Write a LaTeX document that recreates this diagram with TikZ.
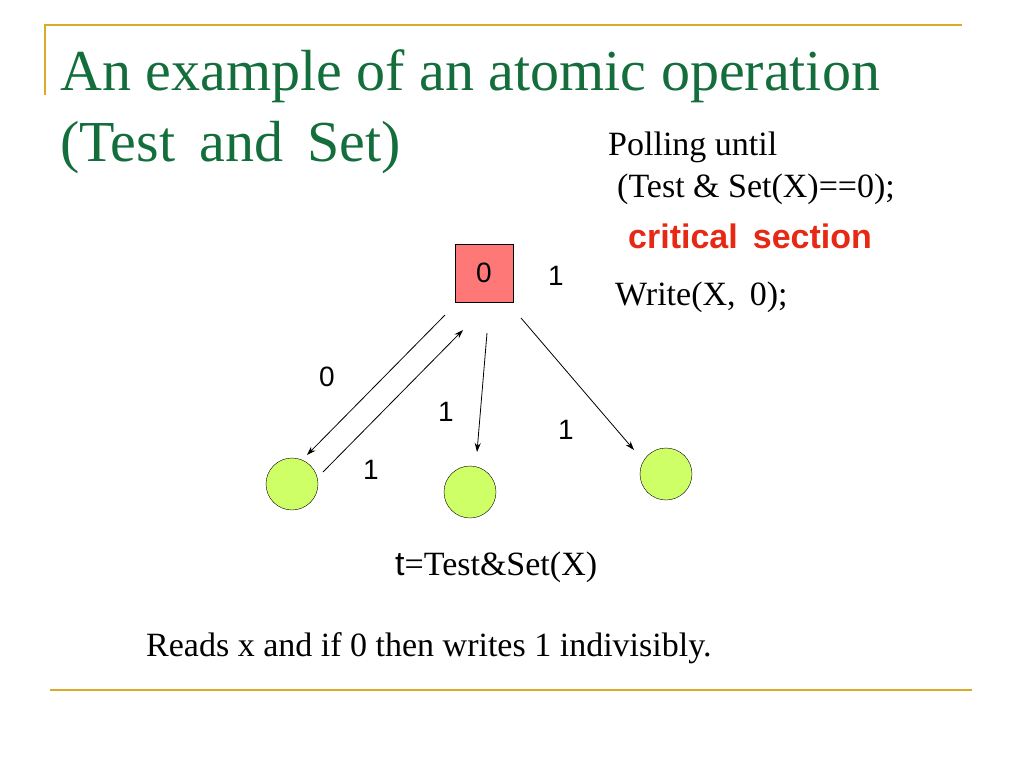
\documentclass[tikz,border=0pt]{standalone}
\usepackage{fontspec}
\usetikzlibrary{arrows.meta}
\setmainfont{Liberation Serif}
\setsansfont{Liberation Sans}
\begin{document}
\begin{tikzpicture}[x=1pt,y=-1pt,
  gold/.style={draw={rgb,255:red,218;green,170;blue,40},line width=2pt},
  circ/.style={circle,draw,fill={rgb,255:red,206;green,255;blue,102},minimum size=52pt,inner sep=0pt},
  lbl/.style={font=\sffamily\fontsize{28}{32}\selectfont,inner sep=0pt},
  txt/.style={font=\fontsize{34}{38}\selectfont,anchor=west,inner sep=0pt},
  arr/.style={-{Stealth[length=9pt,width=6pt]},line width=0.8pt}]
\useasboundingbox (0,0) rectangle (1024,768);
\draw[gold] (45,95) -- (45,25) -- (962,25);
\draw[gold] (50,690) -- (972,690);
\node[anchor=west,inner sep=0pt,text={rgb,255:red,20;green,110;blue,60},font=\fontsize{58}{62}\selectfont] (t1) at (60,76) {An example of an atomic operation};
\node[anchor=west,inner sep=0pt,text={rgb,255:red,20;green,110;blue,60},font=\fontsize{58}{62}\selectfont] (t2) at (60,148) {(Test\, and\, Set)};
\node[txt] (p1) at (608,147) {Polling until};
\node[txt] (p2) at (617,189) {(Test \& Set(X)==0);};
\node[anchor=west,inner sep=0pt,text={rgb,255:red,230;green,40;blue,20},font=\sffamily\bfseries\fontsize{34}{38}\selectfont] (cs) at (628,236) {critical\, section};
\node[txt] (w) at (615,297) {Write(X,\, 0);};
\node[draw,fill={rgb,255:red,255;green,120;blue,120},minimum size=58pt,inner sep=0pt,font=\sffamily\fontsize{28}{32}\selectfont] (x) at (484,273) {0};
\node[lbl] (l0) at (556,276) {1};
\node[circ] (c1) at (292,484) {};
\node[circ] (c2) at (470,492) {};
\node[circ] (c3) at (666,474) {};
\coordinate (a1s) at (445,315); \coordinate (a1e) at (307,455);
\coordinate (a2s) at (323,472); \coordinate (a2e) at (463,330);
\coordinate (a3s) at (487,333); \coordinate (a3e) at (477,452);
\coordinate (a4s) at (521,318); \coordinate (a4e) at (634,450);
\draw[arr] (a1s) -- (a1e);
\draw[arr] (a2s) -- (a2e);
\draw[arr] (a3s) -- (a3e);
\draw[arr] (a4s) -- (a4e);
\node[lbl] (n1) at (327,377) {0};
\node[lbl] (n2) at (446,412) {1};
\node[lbl] (n3) at (566,430) {1};
\node[lbl] (n4) at (371,470) {1};
\node[txt] (ts) at (395,567) {{\sffamily t}=Test\&Set(X)};
\node[txt] (rd) at (146,648) {Reads x and if 0 then writes 1 indivisibly.};
\end{tikzpicture}
\end{document}
